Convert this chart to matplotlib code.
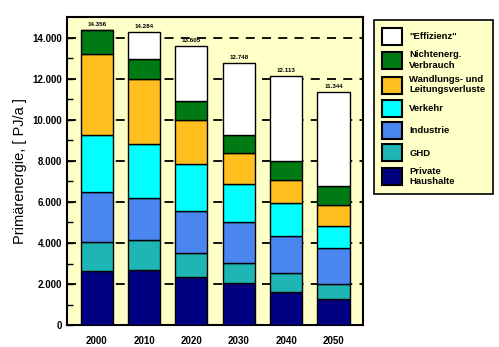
import numpy as np
import matplotlib.pyplot as plt
import matplotlib as mpl
from matplotlib.patches import Patch

mpl.rcParams['font.family'] = 'sans-serif'
mpl.rcParams['font.sans-serif'] = ['Liberation Sans', 'DejaVu Sans']

years = ["2000", "2010", "2020", "2030", "2040", "2050"]
totals = [14356, 14284, 13605, 12748, 12113, 11344]
total_labels = ["14.356", "14.284", "13.605", "12.748", "12.113", "11.344"]

# segment heights
private = [2630, 2680, 2320, 2030, 1630, 1250]
ghd = [1420, 1470, 1180, 980, 890, 730]
industrie = [2440, 2060, 2060, 2030, 1840, 1790]
verkehr = [2780, 2620, 2290, 1820, 1570, 1060]
wandlung = [3930, 3150, 2120, 1510, 1120, 1020]
nichtenerg = [1156, 980, 930, 900, 920, 900]

names = ["Private\nHaushalte", "GHD", "Industrie", "Verkehr",
         "Wandlungs- und\nLeitungsverluste", "Nichtenerg.\nVerbrauch", "\"Effizienz\""]
colors = ["#000080", "#1fb5b5", "#4a86f0", "#00ffff", "#ffbf1f", "#007a12", "#ffffff"]

segs = [private, ghd, industrie, verkehr, wandlung, nichtenerg]
eff = np.array(totals) - np.sum(segs, axis=0)
segs = segs + [list(eff)]

fig = plt.figure(figsize=(4.99, 3.47), dpi=100)
ax = fig.add_axes([0.134, 0.063, 0.593, 0.888])
ax.set_facecolor("#ffffc8")

x = np.arange(len(years))
bottom = np.zeros(len(years))
for s, c in zip(segs, colors):
    ax.bar(x, s, bottom=bottom, width=0.68, color=c, edgecolor="black",
           linewidth=1.0, zorder=3)
    bottom += np.array(s)

for xi, t, lb in zip(x, totals, total_labels):
    ax.text(xi, t + 150, lb, ha="center", va="bottom", fontsize=4.5,
            fontweight="bold", zorder=4)

for y in range(2000, 15000, 2000):
    ax.axhline(y, color="black", linestyle=(0, (5, 4)), linewidth=1.3, zorder=1)

ax.set_xlim(-0.63, 5.62)
ax.set_ylim(0, 15000)
ax.set_xticks(x)
ax.set_xticklabels(years, fontsize=7, fontweight="bold")
ax.set_yticks(range(0, 15000, 2000))
ax.set_yticklabels(["0", "2.000", "4.000", "6.000", "8.000", "10.000", "12.000", "14.000"],
                   fontsize=7, fontweight="bold")
ax.set_yticks(range(1000, 15000, 2000), minor=True)
ax.tick_params(direction="in", length=4, width=1)
ax.tick_params(which="minor", direction="in", length=4, width=1)
ax.tick_params(axis="x", pad=8)
for sp in ax.spines.values():
    sp.set_linewidth(1.5)
ax.set_ylabel("Primärenergie, [ PJ/a ]", fontsize=10.5, labelpad=4)

handles = [Patch(facecolor=c, edgecolor="black", linewidth=1.5) for c in colors[::-1]]
leg = fig.legend(handles, names[::-1], loc="upper left",
                 bbox_to_anchor=(0.741, 0.955),
                 prop={"weight": "bold", "size": 6.8},
                 handlelength=2.1, handleheight=2.4, labelspacing=0.56,
                 handletextpad=0.8, borderpad=0.8, fancybox=False,
                 facecolor="#ffffc8", edgecolor="black", framealpha=1)
leg.get_frame().set_linewidth(1.2)

fig.savefig("out.png", dpi=100)
